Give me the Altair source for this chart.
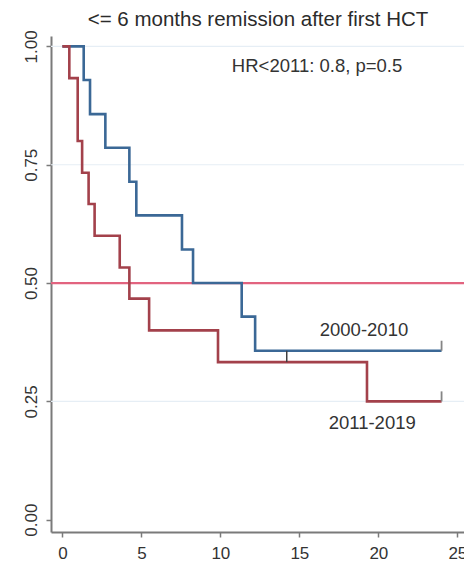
import altair as alt
import pandas as pd

# Kaplan-Meier estimates by transplant era (months since first HCT)
blue_t = [0.0, 1.35, 1.75, 2.72, 4.24, 4.68, 7.57, 8.27, 11.35, 12.2, 24.0]
blue_s = [1.0, 0.929, 0.857, 0.786, 0.714, 0.643, 0.571, 0.5, 0.429, 0.357, 0.357]
red_t = [0.0, 0.44, 0.97, 1.25, 1.66, 2.04, 3.63, 4.24, 5.49, 9.85, 19.28, 24.0]
red_s = [1.0, 0.933, 0.8, 0.733, 0.667, 0.6, 0.533, 0.467, 0.4, 0.333, 0.25, 0.25]

# censoring marks
cens_mid_t = [14.2]
cens_mid_lo = [0.333]
cens_mid_hi = [0.357]
cens_end_t = [24.0, 24.0]
cens_end_s = [0.357, 0.25]

grid_y = [0.25, 0.5, 0.75, 1.0]
ref_y = [0.5]
y_ticks = [0.0, 0.25, 0.5, 0.75, 1.0]
x_ticks = [0, 5, 10, 15, 20, 25]

title_text = ["<= 6 months remission after first HCT"]
notes = ["HR<2011: 0.8, p=0.5", "2000-2010", "2011-2019"]
note_x = [16.12, 19.09, 19.61]
note_y = [0.958, 0.40, 0.2035]

BLUE = "#3b6896"
RED = "#a3414b"
REF = "#e2637f"
GRID = "#e6eef5"
AXIS = "#7a7a7a"
FONT = "Liberation Sans"

W, H = 413, 496
xs = alt.Scale(domain=[-0.72, 25.42], nice=False, zero=False)
ys = alt.Scale(domain=[-0.026, 1.022], nice=False, zero=False)

x_axis = alt.Axis(values=x_ticks, format="d", title=None, grid=False,
                  domainColor=AXIS, domainWidth=2, tickColor=AXIS, tickWidth=1.5,
                  tickSize=5, labelFontSize=17, labelColor="#333333", labelFont=FONT,
                  labelPadding=8, labelFlush=False, labelOverlap=False)
y_axis = alt.Axis(values=y_ticks, format=".2f", title=None, grid=False,
                  domainColor=AXIS, domainWidth=2, tickColor=AXIS, tickWidth=1.5,
                  tickSize=5, labelFontSize=17, labelColor="#333333", labelFont=FONT,
                  labelAngle=270, labelAlign="center", labelBaseline="alphabetic",
                  labelPadding=10, labelFlush=False, labelOverlap=False)


def X(field):
    return alt.X(field, type="quantitative", scale=xs, axis=x_axis)


def Y(field):
    return alt.Y(field, type="quantitative", scale=ys, axis=y_axis)


curves = pd.concat([
    pd.DataFrame({"t": blue_t, "s": blue_s, "grp": "2000-2010", "o": range(len(blue_t))}),
    pd.DataFrame({"t": red_t, "s": red_s, "grp": "2011-2019", "o": range(len(red_t))}),
])

grid = alt.Chart(pd.DataFrame({"s": grid_y})).mark_rule(color=GRID, strokeWidth=1.2).encode(
    y=Y("s"), x=alt.value(0), x2=alt.value(W))

ref = alt.Chart(pd.DataFrame({"s": ref_y})).mark_rule(color=REF, strokeWidth=2.2).encode(
    y=Y("s"), x=alt.value(0), x2=alt.value(W))

blue_line = alt.Chart(curves[curves.grp == "2000-2010"]).mark_line(
    interpolate="step-after", color=BLUE, strokeWidth=2.6).encode(
    x=X("t"), y=Y("s"), order="o:Q")

red_line = alt.Chart(curves[curves.grp == "2011-2019"]).mark_line(
    interpolate="step-after", color=RED, strokeWidth=2.6).encode(
    x=X("t"), y=Y("s"), order="o:Q")

mid_tick = alt.Chart(pd.DataFrame({"t": cens_mid_t, "s": cens_mid_lo, "hi": cens_mid_hi})).mark_rule(
    color="#404040", strokeWidth=1.5).encode(
    x=X("t"), y=Y("s"), y2="hi:Q")

end_tick = alt.Chart(pd.DataFrame({"t": cens_end_t, "s": cens_end_s})).mark_rule(
    color="#858585", strokeWidth=1.8, y2Offset=-10).encode(
    x=X("t"), y=Y("s"), y2="s:Q")

labels = alt.Chart(pd.DataFrame({"t": note_x, "s": note_y, "txt": notes})).mark_text(
    font=FONT, fontSize=18.5, color="#333333", align="center", baseline="middle").encode(
    x=X("t"), y=Y("s"), text="txt:N")

title = alt.Chart(pd.DataFrame({"txt": title_text})).mark_text(
    font=FONT, fontSize=20.5, color="#2b2b2b", align="center", baseline="middle").encode(
    x=alt.value(207), y=alt.value(-16), text="txt:N")

chart = alt.layer(grid, ref, blue_line, red_line, mid_tick, end_tick, labels, title).properties(
    width=W, height=H,
    autosize=alt.AutoSizeParams(type="none"),
    padding={"left": 51, "top": 36, "right": 0, "bottom": 30},
    background="white",
).configure_view(stroke=None)

chart.save("out.html", embed_options={"renderer": "svg", "actions": False})
